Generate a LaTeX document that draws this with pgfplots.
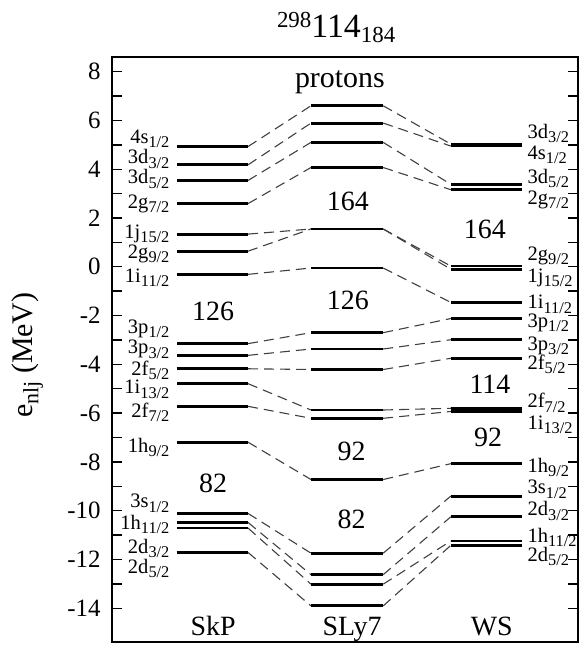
\documentclass[border=0pt]{standalone}
\usepackage{fontspec}
\setmainfont{Liberation Serif}
\usepackage{pgfplots}
\pgfplotsset{compat=1.18}

\newcommand\sub[1]{\raisebox{-2.1bp}{\fontsize{8.2}{9}\selectfont #1}}
\tikzset{
  level/.style={line width=1.4bp, black},
  conn/.style={line width=0.55bp, black!75, dash pattern=on 5bp off 3bp},
  lab/.style={font=\fontsize{10.3}{11}\selectfont, inner sep=0pt},
  big/.style={font=\fontsize{14}{15}\selectfont, inner sep=0pt},
}
% level in SkP, SLy7, WS
\newcommand\lev[3]{%
  \addplot[level] coordinates {(13.9,#1) (29.2,#1)};
  \addplot[conn]  coordinates {(29.2,#1) (42.7,#2)};
  \addplot[level] coordinates {(42.7,#2) (58.2,#2)};
  \addplot[conn]  coordinates {(58.2,#2) (72.7,#3)};
  \addplot[level] coordinates {(72.7,#3) (88.0,#3)};
}

\begin{document}
\begin{tikzpicture}
\path[use as bounding box] (-56bp,-1.5bp) rectangle (234.5bp,321bp);
\begin{axis}[
  at={(0,0)}, anchor=south west,
  scale only axis, width=233bp, height=292.5bp,
  xmin=0, xmax=100, ymin=-15.38, ymax=8.6,
  xtick=\empty,
  ytick={-14,-12,...,8}, minor y tick num=1,
  tick align=inside, ytick pos=both, yticklabel pos=left,
  major tick length=5bp, minor tick length=5bp,
  every tick/.style={black, line width=0.7bp},
  axis line style={line width=0.8bp},
  clip=false,
  /pgf/number format/assume math mode=true,
  yticklabel style={font=\fontsize{12.5}{13}\selectfont, inner sep=0pt, xshift=-5.5bp},
]
\lev{4.93}{6.60}{5.03}
\lev{4.18}{5.89}{4.95}
\lev{3.54}{5.10}{3.38}
\lev{2.59}{4.07}{3.16}
\lev{1.34}{1.55}{0.03}
\lev{0.64}{1.55}{-0.10}
\lev{-0.31}{-0.05}{-1.46}
\lev{-3.15}{-2.70}{-2.12}
\lev{-3.63}{-3.37}{-2.99}
\lev{-4.18}{-4.21}{-3.75}
\lev{-4.79}{-5.87}{-5.80}
\lev{-5.72}{-6.21}{-5.93}
\lev{-7.19}{-8.72}{-8.07}
\lev{-10.11}{-11.74}{-9.40}
\lev{-10.48}{-12.62}{-10.25}
\lev{-10.71}{-13.01}{-11.24}
\lev{-11.71}{-13.90}{-11.42}

% SkP labels
\node[lab, anchor=east] at (axis cs:12.4,5.24) {4s\sub{1/2}};
\node[lab, anchor=east] at (axis cs:12.4,4.42) {3d\sub{3/2}};
\node[lab, anchor=east] at (axis cs:12.4,3.60) {3d\sub{5/2}};
\node[lab, anchor=east] at (axis cs:12.4,2.58) {2g\sub{7/2}};
\node[lab, anchor=east] at (axis cs:12.4,1.35) {1j\sub{15/2}};
\node[lab, anchor=east] at (axis cs:12.4,0.53) {2g\sub{9/2}};
\node[lab, anchor=east] at (axis cs:12.4,-0.46) {1i\sub{11/2}};
\node[lab, anchor=east] at (axis cs:12.4,-2.55) {3p\sub{1/2}};
\node[lab, anchor=east] at (axis cs:12.4,-3.38) {3p\sub{3/2}};
\node[lab, anchor=east] at (axis cs:12.4,-4.23) {2f\sub{5/2}};
\node[lab, anchor=east] at (axis cs:12.4,-5.02) {1i\sub{13/2}};
\node[lab, anchor=east] at (axis cs:12.4,-5.96) {2f\sub{7/2}};
\node[lab, anchor=east] at (axis cs:12.4,-7.39) {1h\sub{9/2}};
\node[lab, anchor=east] at (axis cs:12.4,-9.69) {3s\sub{1/2}};
\node[lab, anchor=east] at (axis cs:12.4,-10.55) {1h\sub{11/2}};
\node[lab, anchor=east] at (axis cs:12.4,-11.53) {2d\sub{3/2}};
\node[lab, anchor=east] at (axis cs:12.4,-12.35) {2d\sub{5/2}};

% WS labels
\node[lab, anchor=west] at (axis cs:89.1,5.48) {3d\sub{3/2}};
\node[lab, anchor=west] at (axis cs:89.1,4.60) {4s\sub{1/2}};
\node[lab, anchor=west] at (axis cs:89.1,3.62) {3d\sub{5/2}};
\node[lab, anchor=west] at (axis cs:89.1,2.76) {2g\sub{7/2}};
\node[lab, anchor=west] at (axis cs:89.1,0.44) {2g\sub{9/2}};
\node[lab, anchor=west] at (axis cs:89.1,-0.45) {1j\sub{15/2}};
\node[lab, anchor=west] at (axis cs:89.1,-1.54) {1i\sub{11/2}};
\node[lab, anchor=west] at (axis cs:89.1,-2.29) {3p\sub{1/2}};
\node[lab, anchor=west] at (axis cs:89.1,-3.24) {3p\sub{3/2}};
\node[lab, anchor=west] at (axis cs:89.1,-4.00) {2f\sub{5/2}};
\node[lab, anchor=west] at (axis cs:89.1,-5.58) {2f\sub{7/2}};
\node[lab, anchor=west] at (axis cs:89.1,-6.47) {1i\sub{13/2}};
\node[lab, anchor=west] at (axis cs:89.1,-8.24) {1h\sub{9/2}};
\node[lab, anchor=west] at (axis cs:89.1,-9.12) {3s\sub{1/2}};
\node[lab, anchor=west] at (axis cs:89.1,-10.01) {2d\sub{3/2}};
\node[lab, anchor=west] at (axis cs:89.1,-11.08) {1h\sub{11/2}};
\node[lab, anchor=west] at (axis cs:89.1,-11.86) {2d\sub{5/2}};

% magic numbers and column names
\node[big] at (axis cs:21.7,-1.81) {126};
\node[big] at (axis cs:21.7,-8.86) {82};
\node[big, anchor=base] at (axis cs:21.7,-15.1) {SkP};
\node[big, font=\fontsize{15}{16}\selectfont] at (axis cs:48.9,7.56) {protons};
\node[big] at (axis cs:50.6,2.68) {164};
\node[big] at (axis cs:50.6,-1.39) {126};
\node[big] at (axis cs:51.4,-7.58) {92};
\node[big] at (axis cs:51.4,-10.35) {82};
\node[big, anchor=base] at (axis cs:51.5,-15.1) {SLy7};
\node[big] at (axis cs:80.0,1.55) {164};
\node[big] at (axis cs:81.1,-4.80) {114};
\node[big] at (axis cs:80.7,-6.99) {92};
\node[big, anchor=base] at (axis cs:81.5,-15.1) {WS};

% y label
\node[inner sep=0pt, rotate=90, font=\fontsize{15}{16}\selectfont] at (axis cs:-18.1,-3.62)
  {e\raisebox{-2.8bp}{\fontsize{11}{12}\selectfont nlj} (MeV)};

% title
\node[anchor=base, inner sep=0pt, yshift=9.5bp] at (axis cs:48.1,8.6)
  {{\fontsize{11.5}{12}\selectfont\raisebox{5bp}{298}}{\fontsize{17}{18}\selectfont 114}{\fontsize{11.5}{12}\selectfont\raisebox{-2.5bp}{184}}};
\end{axis}
\end{tikzpicture}
\end{document}
